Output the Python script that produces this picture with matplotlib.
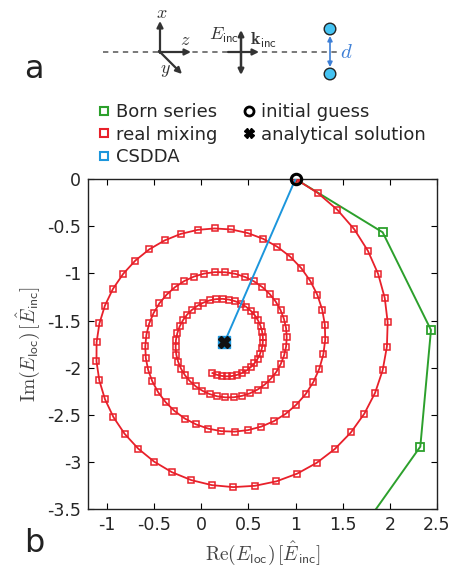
import matplotlib
matplotlib.use("Agg")
import matplotlib.pyplot as plt
from matplotlib.lines import Line2D
from matplotlib.patches import Circle

plt.rcParams["mathtext.fontset"] = "cm"
plt.rcParams["font.family"] = "DejaVu Sans"

re_mix = [
    1.000, 1.236, 1.445, 1.624, 1.768, 1.876, 1.946, 1.977, 1.969, 1.924,
    1.844, 1.730, 1.587, 1.417, 1.226, 1.018, 0.797, 0.570, 0.340, 0.114,
    -0.104, -0.310, -0.499, -0.667, -0.812, -0.930, -1.020, -1.080, -1.110, -1.109,
    -1.079, -1.021, -0.936, -0.827, -0.698, -0.550, -0.388, -0.217, -0.038, 0.142,
    0.321, 0.494, 0.657, 0.808, 0.944, 1.061, 1.157, 1.232, 1.283, 1.311,
    1.315, 1.295, 1.253, 1.190, 1.108, 1.008, 0.895, 0.769, 0.636, 0.496,
    0.355, 0.214, 0.077, -0.053, -0.174, -0.283, -0.377, -0.456, -0.518, -0.562,
    -0.587, -0.593, -0.581, -0.551, -0.504, -0.442, -0.366, -0.278, -0.181, -0.077,
    0.032, 0.143, 0.254, 0.362, 0.465, 0.562, 0.649, 0.725, 0.790, 0.841,
    0.877, 0.900, 0.907, 0.900, 0.879, 0.844, 0.798, 0.740, 0.673, 0.598,
    0.517, 0.432, 0.344, 0.257, 0.171, 0.089, 0.013, -0.057, -0.119, -0.171,
    -0.213, -0.244, -0.264, -0.271, -0.268, -0.253, -0.228, -0.193, -0.149, -0.097,
    -0.039, 0.024, 0.090, 0.158, 0.227, 0.295, 0.360, 0.421, 0.477, 0.526,
    0.569, 0.603, 0.629, 0.646, 0.654, 0.653, 0.643, 0.624, 0.598, 0.565,
    0.525, 0.480, 0.432, 0.380, 0.326, 0.272, 0.219, 0.167, 0.119,
]
im_mix = [
    0.000, -0.148, -0.328, -0.534, -0.762, -1.006, -1.260, -1.518, -1.776, -2.026,
    -2.265, -2.486, -2.686, -2.861, -3.007, -3.122, -3.204, -3.251, -3.265, -3.244,
    -3.191, -3.107, -2.995, -2.858, -2.700, -2.524, -2.334, -2.135, -1.932, -1.730,
    -1.531, -1.342, -1.165, -1.005, -0.864, -0.745, -0.651, -0.582, -0.539, -0.524,
    -0.535, -0.573, -0.634, -0.719, -0.823, -0.945, -1.081, -1.229, -1.384, -1.543,
    -1.702, -1.859, -2.009, -2.150, -2.279, -2.392, -2.489, -2.567, -2.624, -2.661,
    -2.677, -2.672, -2.646, -2.601, -2.538, -2.458, -2.365, -2.260, -2.145, -2.024,
    -1.899, -1.774, -1.650, -1.531, -1.419, -1.316, -1.225, -1.146, -1.082, -1.034,
    -1.002, -0.987, -0.988, -1.005, -1.038, -1.086, -1.146, -1.218, -1.299, -1.388,
    -1.482, -1.580, -1.678, -1.776, -1.870, -1.960, -2.042, -2.115, -2.179, -2.231,
    -2.271, -2.298, -2.313, -2.314, -2.303, -2.279, -2.244, -2.198, -2.143, -2.081,
    -2.012, -1.938, -1.862, -1.784, -1.707, -1.633, -1.562, -1.496, -1.437, -1.386,
    -1.343, -1.310, -1.286, -1.273, -1.270, -1.278, -1.295, -1.321, -1.355, -1.397,
    -1.445, -1.499, -1.556, -1.616, -1.677, -1.737, -1.796, -1.853, -1.905, -1.953,
    -1.994, -2.029, -2.056, -2.076, -2.088, -2.091, -2.087, -2.075, -2.056,
]

# Born series (last point lies below the axes)
re_born = [1.0, 1.924, 2.436, 2.323, 1.544]
im_born = [0.0, -0.565, -1.600, -2.836, -3.933]

# CSDDA
re_csdda = [1.0, 0.247]
im_csdda = [0.0, -1.730]

re_guess, im_guess = [1.0], [0.0]
re_exact, im_exact = [0.247], [-1.730]

xticks = [-1, -0.5, 0, 0.5, 1, 1.5, 2, 2.5]
yticks = [0, -0.5, -1, -1.5, -2, -2.5, -3, -3.5]

green = "#2ca02c"
red = "#e8202a"
blue = "#1c96dc"
grey = "#262626"

W, H = 452, 568
fig = plt.figure(figsize=(W / 100, H / 100), dpi=100)

# ---- panel a : schematic, drawn in pixel coordinates
ax0 = fig.add_axes([0, 0, 1, 1], zorder=0)
ax0.set_xlim(0, W)
ax0.set_ylim(H, 0)
ax0.axis("off")

ax0.plot([103, 338], [52, 52], ls=(0, (3.5, 3)), color="#555555", lw=1.1)
arr = dict(arrowstyle="-|>", color="#333333", lw=1.6, mutation_scale=9,
           shrinkA=0, shrinkB=0)
ax0.annotate("", xy=(160, 21), xytext=(160, 53), arrowprops=arr)
ax0.annotate("", xy=(191, 52), xytext=(159, 52), arrowprops=arr)
ax0.annotate("", xy=(182, 74), xytext=(159, 51), arrowprops=arr)
ax0.text(162, 13, "$x$", fontsize=13, ha="center", va="center", color="#333333")
ax0.text(185, 40, "$z$", fontsize=13, ha="center", va="center", color="#333333")
ax0.text(165, 70, "$y$", fontsize=13, ha="center", va="center", color="#333333")

arr2 = dict(arrowstyle="<|-|>", color="#333333", lw=1.8, mutation_scale=8,
            shrinkA=0, shrinkB=0)
ax0.annotate("", xy=(241, 30), xytext=(241, 75), arrowprops=arr2)
ax0.annotate("", xy=(259, 52), xytext=(228, 52), arrowprops=arr)
ax0.text(224, 35, r"$E_{\mathsf{inc}}$", fontsize=13, ha="center", va="center",
         color="#333333")
ax0.text(264, 40, r"$\mathbf{k}_{\mathsf{inc}}$", fontsize=13, ha="center",
         va="center", color="#333333")

for cy in (29, 74):
    ax0.add_patch(Circle((330, cy), 5.8, facecolor="#45c3f2", edgecolor="#222222",
                         lw=1.0, zorder=3))
arr3 = dict(arrowstyle="<|-|>", color="#3d7fd6", lw=1.2, mutation_scale=7,
            shrinkA=0, shrinkB=0)
ax0.annotate("", xy=(330, 36), xytext=(330, 67), arrowprops=arr3)
ax0.text(346, 52, "$d$", fontsize=15, ha="center", va="center", color="#3d7fd6")

ax0.text(34, 70, "a", fontsize=23, ha="center", va="center", color="#222222")
ax0.text(34, 544, "b", fontsize=23, ha="center", va="center", color="#222222")

# ---- panel b : iteration paths
ax = fig.add_axes([88 / W, 1 - 509.3 / H, 349 / W, 330.3 / H], zorder=1)
ax.patch.set_alpha(0)

ax.plot(re_born, im_born, color=green, lw=1.4, marker="s", ms=5.5, mfc="none",
        mew=1.3, zorder=2)
ax.plot(re_mix, im_mix, color=red, lw=1.3, marker="s", ms=5.0, mfc="none",
        mew=1.1, zorder=3)
ax.plot(re_csdda, im_csdda, color=blue, lw=1.4, zorder=4)
ax.plot(re_csdda[-1:], im_csdda[-1:], ls="none", marker="s", ms=9, color=blue,
        zorder=5)
ax.plot(re_guess, im_guess, ls="none", marker="o", ms=7.5, mfc="none", mec="black",
        mew=2.2, zorder=6, clip_on=False)
ax.plot(re_exact, im_exact, ls="none", marker="X", ms=8, color="#111111", zorder=6)

ax.set_xlim(-1.2, 2.5)
ax.set_ylim(-3.5, 0)
ax.set_xticks(xticks)
ax.set_xticklabels(["-1", "-0.5", "0", "0.5", "1", "1.5", "2", "2.5"])
ax.set_yticks(yticks)
ax.set_yticklabels(["0", "-0.5", "-1", "-1.5", "-2", "-2.5", "-3", "-3.5"])
ax.tick_params(direction="in", length=4, width=0.8, top=True, right=True,
               labelsize=12.5, labelcolor=grey, pad=5)
for s in ax.spines.values():
    s.set_linewidth(1.0)
    s.set_color("#222222")

ax.set_xlabel(r"$\mathrm{Re}(E_{\mathsf{loc}})\,[\hat{E}_{\mathsf{inc}}]$",
              fontsize=14, color="#444444", labelpad=4)
ax.set_ylabel(r"$\mathrm{Im}(E_{\mathsf{loc}})\,[\hat{E}_{\mathsf{inc}}]$",
              fontsize=14, color="#444444", labelpad=4)

handles = [
    Line2D([], [], ls="none", marker="s", mfc="none", mec=green, ms=6, mew=1.5,
           label="Born series"),
    Line2D([], [], ls="none", marker="s", mfc="none", mec=red, ms=6, mew=1.5,
           label="real mixing"),
    Line2D([], [], ls="none", marker="s", mfc="none", mec=blue, ms=6, mew=1.5,
           label="CSDDA"),
    Line2D([], [], ls="none", marker="o", mfc="none", mec="black", ms=6.5, mew=2,
           label="initial guess"),
    Line2D([], [], ls="none", marker="X", color="black", ms=7,
           label="analytical solution"),
]
fig.legend(handles=handles, loc="upper left", bbox_to_anchor=(98 / W, 1 - 103 / H),
           ncol=2, frameon=False, fontsize=13, handlelength=0.7, handletextpad=0.3,
           labelspacing=0.26, columnspacing=1.4, borderpad=0, borderaxespad=0,
           labelcolor=grey)

fig.savefig("out.png", dpi=100)
